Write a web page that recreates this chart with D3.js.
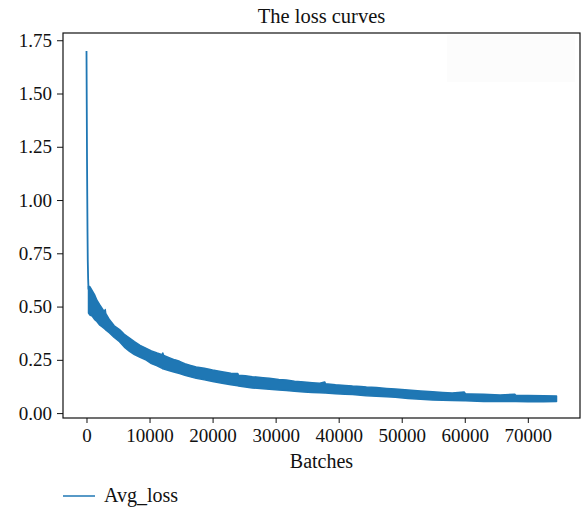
<!DOCTYPE html>
<html>
<head>
<meta charset="utf-8">
<script src="https://cdn.jsdelivr.net/npm/d3@7"></script>
<style>
  html, body { margin: 0; padding: 0; background: #fff; }
  svg text { font-family: "Liberation Serif", "DejaVu Serif", serif; fill: #111; }
</style>
</head>
<body>
<svg id="chart" width="582" height="510"></svg>
<script>
// ---- data ----
const title = "The loss curves";
const xLabel = "Batches";
const seriesName = "Avg_loss";
const xTicks = [0, 10000, 20000, 30000, 40000, 50000, 60000, 70000];
const yTicks = [0.00, 0.25, 0.50, 0.75, 1.00, 1.25, 1.50, 1.75];

// initial spike of Avg_loss
const spikeBatches = [0, 40, 80, 120, 160, 200, 260, 320];
const spikeLoss    = [1.70, 1.45, 1.20, 1.02, 0.85, 0.72, 0.63, 0.58];

// noisy band of Avg_loss afterwards: upper and lower envelope
const bandBatches = [320, 550, 900, 1270, 1650, 2060, 2500, 2900, 2970, 3050, 3650, 4400, 5240, 6000, 6830,
  7600, 8500, 9480, 10300, 11200, 12000, 12100, 12250, 13300, 14000, 14760, 15600, 16500, 17400, 18700,
  20000, 21500, 22900, 24000, 24100, 25200, 26300, 28000, 29000, 30500, 31700, 33000, 34500, 35800, 37000,
  37800, 37900, 39500, 41000, 42200, 43500, 44400, 46000, 47600, 49000, 51000, 53000, 54900, 56500, 58000,
  59900, 60100, 61000, 63000, 65600, 67900, 68100, 70000, 72500, 74550];
const lossUpper = [0.595, 0.593, 0.575, 0.556, 0.530, 0.510, 0.490, 0.472, 0.486, 0.468, 0.438, 0.410, 0.392, 0.370, 0.352,
  0.335, 0.318, 0.304, 0.292, 0.282, 0.274, 0.282, 0.270, 0.258, 0.250, 0.243, 0.232, 0.224, 0.216, 0.210,
  0.202, 0.194, 0.187, 0.186, 0.178, 0.175, 0.171, 0.166, 0.163, 0.158, 0.155, 0.150, 0.146, 0.143, 0.140,
  0.146, 0.138, 0.133, 0.130, 0.127, 0.125, 0.122, 0.120, 0.116, 0.113, 0.108, 0.104, 0.100, 0.097, 0.094,
  0.099, 0.091, 0.090, 0.088, 0.085, 0.089, 0.084, 0.083, 0.082, 0.080];
const lossLower = [0.470, 0.460, 0.455, 0.440, 0.430, 0.414, 0.405, 0.395, 0.393, 0.390, 0.376, 0.355, 0.335, 0.310, 0.290,
  0.275, 0.262, 0.249, 0.232, 0.222, 0.210, 0.208, 0.207, 0.198, 0.192, 0.186, 0.178, 0.170, 0.163, 0.156,
  0.148, 0.140, 0.133, 0.128, 0.127, 0.122, 0.118, 0.114, 0.112, 0.108, 0.106, 0.102, 0.099, 0.097, 0.095,
  0.094, 0.094, 0.091, 0.089, 0.087, 0.084, 0.081, 0.079, 0.077, 0.074, 0.069, 0.065, 0.062, 0.060, 0.059,
  0.058, 0.058, 0.057, 0.055, 0.054, 0.054, 0.054, 0.053, 0.053, 0.054];

// ---- drawing ----
const svg = d3.select("#chart");
const plot = { left: 63, right: 580, top: 33, bottom: 418 };
const color = "#1f77b4";

const x = d3.scaleLinear().domain([-3727, 78277]).range([plot.left, plot.right]);
const y = d3.scaleLinear().domain([-0.023, 1.784]).range([plot.bottom, plot.top]);

// faint rectangle in the upper right of the plot
svg.append("rect")
  .attr("x", 447).attr("y", 35).attr("width", 128).attr("height", 47)
  .attr("fill", "#fcfcfc");

// band
const bandData = bandBatches.map((b, i) => ({ b, hi: lossUpper[i], lo: lossLower[i] }));
const area = d3.area().x(d => x(d.b)).y0(d => y(d.lo)).y1(d => y(d.hi)).curve(d3.curveLinear);
svg.append("path").datum(bandData)
  .attr("d", area)
  .attr("fill", color)
  .attr("stroke", color).attr("stroke-width", 1.5).attr("stroke-linejoin", "round");

// spike line
const spikeData = spikeBatches.map((b, i) => ({ b, v: spikeLoss[i] }));
svg.append("path").datum(spikeData)
  .attr("d", d3.line().x(d => x(d.b)).y(d => y(d.v)))
  .attr("fill", "none").attr("stroke", color).attr("stroke-width", 1.8);

// frame
svg.append("rect")
  .attr("x", plot.left).attr("y", plot.top)
  .attr("width", plot.right - plot.left).attr("height", plot.bottom - plot.top)
  .attr("fill", "none").attr("stroke", "#111").attr("stroke-width", 1.2);

// axes
const xAxis = d3.axisBottom(x).tickValues(xTicks).tickFormat(d3.format("d")).tickSize(5).tickPadding(6);
const gx = svg.append("g").attr("transform", `translate(0,${plot.bottom})`).call(xAxis);
gx.select(".domain").remove();
gx.selectAll("line").attr("stroke", "#111").attr("stroke-width", 1);
gx.selectAll("text").style("font-size", "19px").style("font-family", "Liberation Serif").attr("fill", "#111");

const yAxis = d3.axisLeft(y).tickValues(yTicks).tickFormat(d3.format(".2f")).tickSize(6).tickPadding(5);
const gy = svg.append("g").attr("transform", `translate(${plot.left},0)`).call(yAxis);
gy.select(".domain").remove();
gy.selectAll("line").attr("stroke", "#111").attr("stroke-width", 1);
gy.selectAll("text").style("font-size", "19px").style("font-family", "Liberation Serif").attr("fill", "#111");

// title
svg.append("text").attr("x", (plot.left + plot.right) / 2).attr("y", 23)
  .attr("text-anchor", "middle").style("font-size", "20.5px").text(title);

// x label
svg.append("text").attr("x", (plot.left + plot.right) / 2).attr("y", 468)
  .attr("text-anchor", "middle").style("font-size", "20px").text(xLabel);

// legend
svg.append("line").attr("x1", 63).attr("x2", 95).attr("y1", 496).attr("y2", 496)
  .attr("stroke", color).attr("stroke-width", 1.5);
svg.append("text").attr("x", 104).attr("y", 502).style("font-size", "20px").text(seriesName);
</script>
</body>
</html>
